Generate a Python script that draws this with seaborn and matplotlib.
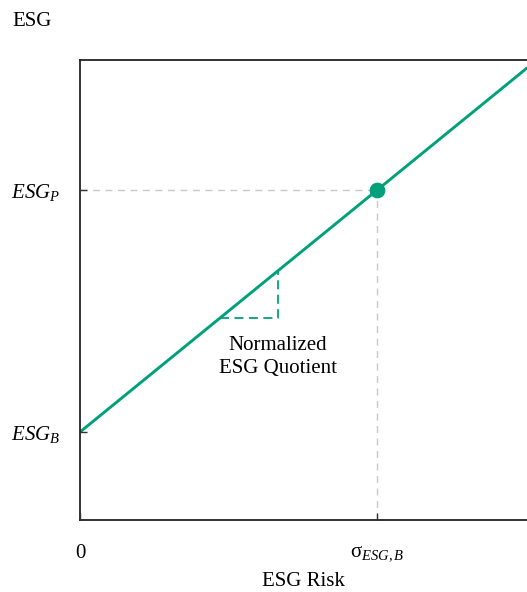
import numpy as np
import pandas as pd
import matplotlib
matplotlib.use("Agg")
import matplotlib.pyplot as plt
import seaborn as sns

# datos del diagrama
risk_x = [0.0, 1.505]          # riesgo ESG (0 .. borde derecho)
esg_y = [0.88, 4.52]           # linea ESG
sigma_b = 1.0                  # sigma_ESG,B
esg_b = 0.88
esg_p = 3.30
tri_x = [0.471, 0.667]         # triangulo de pendiente
tri_y = [2.02, 2.494]
x_ticks = [0.0, sigma_b]
x_labels = ["0", r"$\mathrm{\sigma}_{ESG,B}$"]
y_ticks = [esg_b, esg_p]
y_labels = [r"$ESG_B$", r"$ESG_P$"]

GREEN = "#00a07a"
GRAY = "#c8c8c8"

sns.set_style("white")
plt.rcParams["font.family"] = ["Liberation Serif", "DejaVu Serif"]
plt.rcParams["mathtext.fontset"] = "custom"
plt.rcParams["mathtext.rm"] = "Liberation Serif"
plt.rcParams["mathtext.it"] = "Liberation Serif:italic"

fig = plt.figure(figsize=(5.27, 5.92), dpi=100)
ax = fig.add_axes([80 / 527, 1 - 520 / 592, 1 - 80 / 527, 460 / 592])
ax.set_axisbelow(False)

# lineas guia grises
ax.plot([0, sigma_b], [esg_p, esg_p], color=GRAY, lw=1.0, ls=(0, (5, 4)))
ax.plot([sigma_b, sigma_b], [0, esg_p], color=GRAY, lw=1.0, ls=(0, (5, 4)))

# triangulo
ax.plot([tri_x[0], tri_x[1], tri_x[1]], [tri_y[0], tri_y[0], tri_y[1]],
        color=GREEN, lw=1.3, ls=(0, (5, 3)))

df = pd.DataFrame({"x": risk_x, "y": esg_y})
sns.lineplot(data=df, x="x", y="y", ax=ax, color=GREEN, lw=2.1)
sns.scatterplot(x=[sigma_b], y=[esg_p], ax=ax, color=GREEN, s=110,
                edgecolor=GREEN, zorder=5)

ax.text(tri_x[1], 1.63, "Normalized\nESG Quotient", ha="center", va="center",
        fontsize=15, linespacing=1.3, color="black")

ax.set_xlim(0, 1.505)
ax.set_ylim(0, 4.6)
ax.set_xticks(x_ticks)
ax.set_xticklabels(x_labels)
ax.set_yticks(y_ticks)
ax.set_yticklabels(y_labels)
ax.tick_params(axis="both", direction="in", length=5, width=1, colors="#333333",
               labelsize=15, labelcolor="black", bottom=True, left=True)
ax.tick_params(axis="x", pad=17)
ax.tick_params(axis="y", pad=14)

ax.set_xlabel("ESG Risk", fontsize=15, labelpad=6, color="black")
ax.set_ylabel("")
fig.text(12 / 527, 1 - 22 / 592, "ESG", fontsize=15, va="center", ha="left",
         color="black")

for s in ["top", "left", "bottom"]:
    ax.spines[s].set_color("#222222")
    ax.spines[s].set_linewidth(1.3)
ax.spines["right"].set_visible(False)

fig.savefig("out.png", dpi=100)
